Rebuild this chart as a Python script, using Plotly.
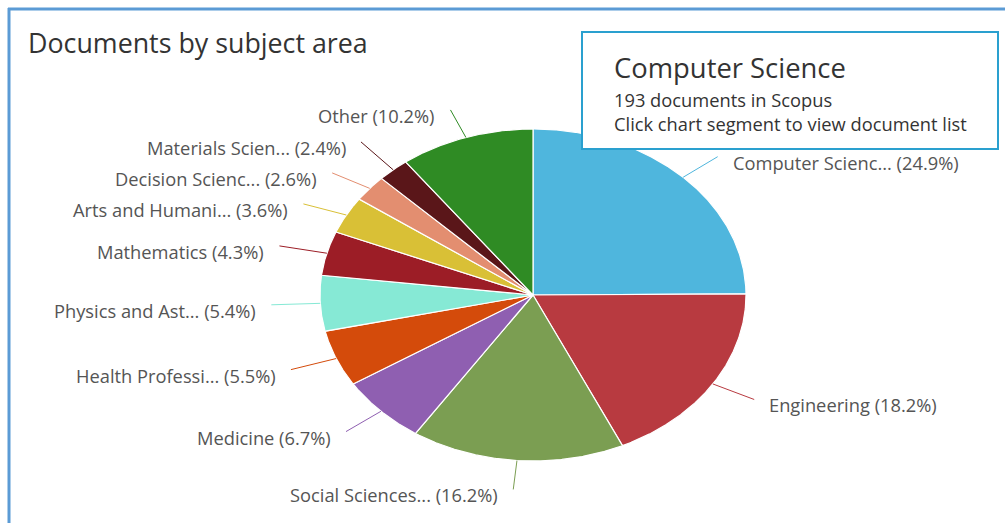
import numpy as np
import plotly.graph_objects as go

# ---- data ----
subjects = ["Computer Scienc...", "Engineering", "Social Sciences...", "Medicine",
            "Health Professi...", "Physics and Ast...", "Mathematics",
            "Arts and Humani...", "Decision Scienc...", "Materials Scien...", "Other"]
shares = [24.9, 18.2, 16.2, 6.7, 5.5, 5.4, 4.3, 3.6, 2.6, 2.4, 10.2]
colors = ["#4fb6dd", "#b83a40", "#7b9e52", "#8f5fb1", "#d44b0b", "#86e9d5",
          "#9c1d26", "#d9c036", "#e38e70", "#5a1619", "#2f8b24"]

chart_title = "Documents by subject area"
tooltip_title = "Computer Science"
tooltip_lines = ["193 documents in Scopus", "Click chart segment to view document list"]

# ---- layout geometry (pixel-unit axes) ----
W, H = 1005, 523
CX, CY = 533, 295        # pie centre
RX, RY = 213, 166        # pie radii (elliptical, as in the reference)
LRX, LRY = 262, 195      # connector end radii
GAP = 13
MIN_SEP = 31             # min vertical spacing of labels on one side
FONT = "Open Sans"


def spread(ys, sep):
    """Push label positions apart so they are at least `sep` apart (keeps order)."""
    ys = list(ys)
    order = np.argsort(ys)
    pos = [ys[i] for i in order]
    for _ in range(200):
        moved = False
        for k in range(len(pos) - 1):
            d = pos[k + 1] - pos[k]
            if d < sep - 1e-6:
                push = (sep - d) / 2
                pos[k] -= push
                pos[k + 1] += push
                moved = True
        if not moved:
            break
    out = [0.0] * len(ys)
    for k, i in enumerate(order):
        out[i] = pos[k]
    return out


fig = go.Figure()
annotations = []
total = float(sum(shares))
start = 0.0
mids = []
for name, val, col in zip(subjects, shares, colors):
    a0 = start / total * 2 * np.pi
    a1 = (start + val) / total * 2 * np.pi
    start += val
    mids.append((a0 + a1) / 2)
    t = np.linspace(a0, a1, max(8, int(200 * (a1 - a0))))
    xs = np.concatenate([[CX], CX + RX * np.sin(t), [CX]])
    ys = np.concatenate([[CY], CY - RY * np.cos(t), [CY]])
    fig.add_trace(go.Scatter(x=xs, y=ys, mode="lines", fill="toself",
                             fillcolor=col, line=dict(color="white", width=1.2),
                             hoverinfo="skip", showlegend=False))

mids = np.array(mids)
natural_y = CY - LRY * np.cos(mids)
label_y = natural_y.copy()
for side in (True, False):
    idx = [i for i in range(len(mids)) if (np.sin(mids[i]) > 0) == side]
    sp = spread([natural_y[i] for i in idx], MIN_SEP)
    for i, y in zip(idx, sp):
        label_y[i] = y

for i, (name, val, col) in enumerate(zip(subjects, shares, colors)):
    am = mids[i]
    x0, y0 = CX + RX * np.sin(am), CY - RY * np.cos(am)
    x1, y1 = CX + LRX * np.sin(am), label_y[i]
    fig.add_trace(go.Scatter(x=[x0, x1], y=[y0, y1], mode="lines",
                             line=dict(color=col, width=1), hoverinfo="skip",
                             showlegend=False))
    right = np.sin(am) > 0
    annotations.append(dict(
        x=x1 + (GAP if right else -GAP), y=y1 + 5.5, xref="x", yref="y",
        text=f"{name} ({val}%)", showarrow=False,
        xanchor="left" if right else "right", yanchor="middle",
        font=dict(family=FONT, size=18.3, color="#555555")))

# title
annotations.append(dict(x=26, y=42, xref="x", yref="y", text=chart_title,
                        showarrow=False, xanchor="left", yanchor="middle",
                        font=dict(family=FONT, size=26.8, color="#333333")))
# tooltip box text
annotations.append(dict(x=612, y=67, xref="x", yref="y", text=tooltip_title,
                        showarrow=False, xanchor="left", yanchor="middle",
                        font=dict(family=FONT, size=27.4, color="#333333")))
for i, line in enumerate(tooltip_lines):
    annotations.append(dict(x=612, y=99 + 24 * i, xref="x", yref="y", text=line,
                            showarrow=False, xanchor="left", yanchor="middle",
                            font=dict(family=FONT, size=18.3, color="#333333")))

shapes = [
    dict(type="rect", xref="x", yref="y", x0=582, y0=32, x1=998, y1=149,
         line=dict(color="#2aa0cf", width=2), fillcolor="white", layer="above"),
    dict(type="line", xref="x", yref="y", x0=8, y0=9, x1=W, y1=9,
         line=dict(color="#5b9bd5", width=3)),
    dict(type="line", xref="x", yref="y", x0=9, y0=8, x1=9, y1=H,
         line=dict(color="#5b9bd5", width=3)),
]

fig.update_layout(
    width=W, height=H, margin=dict(l=0, r=0, t=0, b=0),
    paper_bgcolor="white", plot_bgcolor="white",
    xaxis=dict(range=[0, W], visible=False, fixedrange=True),
    yaxis=dict(range=[H, 0], visible=False, fixedrange=True),
    annotations=annotations, shapes=shapes, showlegend=False,
)
fig.write_html("out.html", config={"displayModeBar": False},
               post_script="document.body.style.margin='0';document.body.style.overflow='hidden';")
